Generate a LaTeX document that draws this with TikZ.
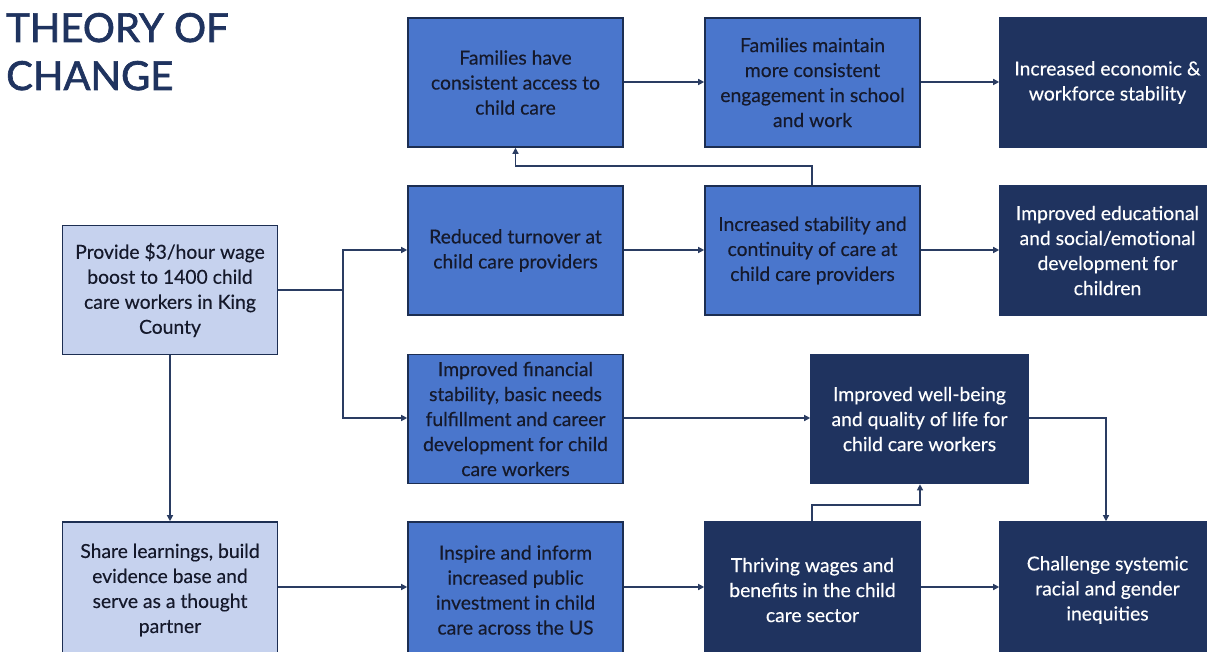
\documentclass[tikz,border=0pt]{standalone}
\usepackage{fontspec}
\setmainfont{Lato}[UprightFeatures={FakeBold=0.35}]
\newfontfamily\titlefont{Lato}[UprightFeatures={FakeBold=1.6}]
\usetikzlibrary{arrows.meta}
\definecolor{navy}{HTML}{1F335F}
\definecolor{lightbl}{HTML}{C6D2EE}
\definecolor{midbl}{HTML}{4A76CC}
\definecolor{txtdark}{HTML}{15192B}
\definecolor{edge}{HTML}{1C2E52}
\definecolor{linec}{HTML}{2A3C62}
\tikzset{
  box/.style={draw=edge, line width=1.6pt, minimum width=215pt, minimum height=129pt, align=center, inner sep=0pt,
    font=\fontsize{19.3}{25}\selectfont},
  lightbox/.style={box, fill=lightbl, text=txtdark},
  midbox/.style={box, fill=midbl, text=txtdark},
  darkbox/.style={box, fill=navy, draw=navy, text=white},
  conn/.style={draw=linec, line width=1.3pt, -{Triangle[length=6pt,width=6pt]}},
  titletext/.style={anchor=base west, text=navy, font=\titlefont\fontsize{40}{48}\selectfont, inner sep=0pt},
}
\begin{document}
\begin{tikzpicture}[x=1pt,y=-1pt]
\useasboundingbox (0,0) rectangle (1207,652);
\clip (0,0) rectangle (1207,652);
\fill[white] (0,0) rectangle (1207,652);
% title
\node[titletext] (t1) at (6,42) {THEORY OF};
\node[titletext] (t2) at (6,90) {CHANGE};
% column 1
\node[lightbox] (provide) at (170,290) {Provide \$3/hour wage\\boost to 1400 child\\care workers in King\\County};
\node[lightbox, minimum height=136pt] (share) at (170,590) {Share learnings, build\\evidence base and\\serve as a thought\\partner};
% column 2
\node[midbox] (famhave) at (515.5,82.5) {Families have\\consistent access to\\child care};
\node[midbox] (reduced) at (515.5,250.5) {Reduced turnover at\\child care providers};
\node[midbox] (financial) at (515.5,419) {Improved financial\\stability, basic needs\\fulfillment and career\\development for child\\care workers};
\node[midbox, minimum height=136pt] (inspire) at (515.5,590) {Inspire and inform\\increased public\\investment in child\\care across the US};
% column 3
\node[midbox] (fammaintain) at (812.5,82.5) {Families maintain\\more consistent\\engagement in school\\and work};
\node[midbox] (stability) at (812.5,250.5) {Increased stability and\\continuity of care at\\child care providers};
\node[darkbox, minimum height=136pt] (thriving) at (812.5,590) {Thriving wages and\\benefits in the child\\care sector};
\node[darkbox, minimum width=217pt] (wellbeing) at (919.5,419) {Improved well-being\\and quality of life for\\child care workers};
% column 4
\node[darkbox] (economic) at (1107.5,82.5) {Increased economic \&\\workforce stability};
\node[darkbox] (educational) at (1107.5,250.5) {Improved educational\\and social/emotional\\development for\\children};
\node[darkbox, minimum height=136pt] (challenge) at (1107.5,590) {Challenge systemic\\racial and gender\\inequities};
% helper coordinates
\coordinate (split) at (343,290);
\coordinate (stabtop) at (812,166);
\coordinate (thrtop) at (812,505);
% connectors
\draw[conn] (famhave.east |- 0,82) -- (fammaintain.west |- 0,82);
\draw[conn] (fammaintain.east |- 0,82) -- (economic.west |- 0,82);
\draw[conn] (reduced.east |- 0,250) -- (stability.west |- 0,250);
\draw[conn] (stability.east |- 0,250) -- (educational.west |- 0,250);
\draw[conn] (stability.north -| stabtop) -- (stabtop) -| (famhave.south);
\draw[draw=linec, line width=1.3pt] (provide.east |- split) -- (split);
\draw[conn] (split) |- (reduced.west |- 0,250);
\draw[conn] (split) |- (financial.west |- 0,418);
\draw[conn] (provide.south) -- (share.north -| provide.south);
\draw[conn] (share.east |- 0,587) -- (inspire.west |- 0,587);
\draw[conn] (inspire.east |- 0,587) -- (thriving.west |- 0,587);
\draw[conn] (thriving.east |- 0,587) -- (challenge.west |- 0,587);
\draw[conn] (financial.east |- 0,418) -- (wellbeing.west |- 0,418);
\draw[conn] (thriving.north -| thrtop) -- (thrtop) -- (920,505) -- (wellbeing.south -| 920,0);
\draw[conn] (wellbeing.east |- 0,418) -| (challenge.north -| 1106,0);
\end{tikzpicture}
\end{document}
